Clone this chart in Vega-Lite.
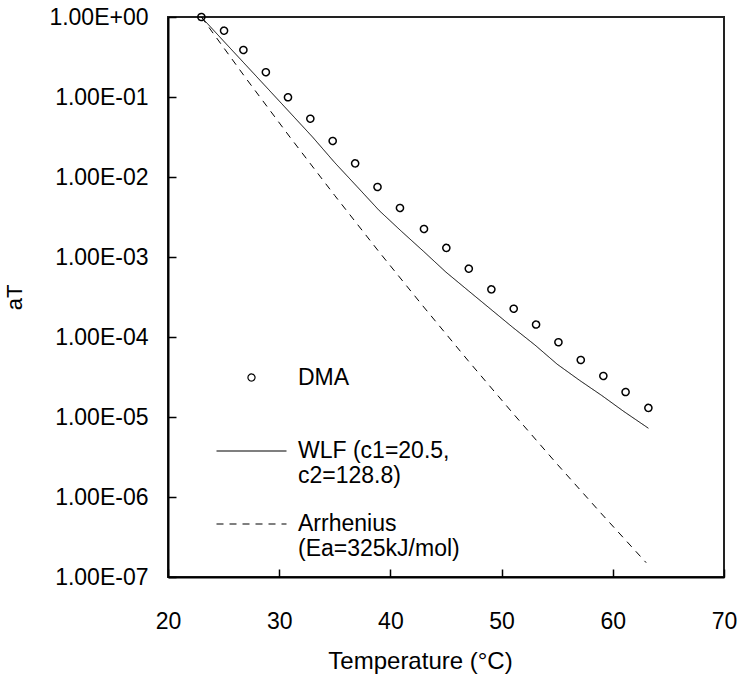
{
  "$schema": "https://vega.github.io/schema/vega-lite/v6.json",
  "width": 556,
  "height": 560,
  "autosize": {"type": "none"},
  "padding": {"left": 168, "top": 17, "right": 17, "bottom": 106},
  "background": "white",
  "config": {
    "font": "Liberation Sans",
    "view": {"stroke": "#222222", "strokeWidth": 2},
    "axis": {
      "grid": false,
      "domainColor": "black",
      "domainWidth": 2,
      "tickColor": "black",
      "tickWidth": 1.5,
      "tickSize": -8,
      "labelColor": "black",
      "labelFontSize": 23,
      "labelFont": "Liberation Sans",
      "labelFlush": false,
      "titleColor": "black",
      "titleFont": "Liberation Sans",
      "titleFontSize": 24,
      "titleFontWeight": "normal"
    },
    "legend": {
      "orient": "none",
      "legendX": 47.5,
      "legendY": 349,
      "labelFontSize": 23,
      "labelFont": "Liberation Sans",
      "labelColor": "black",
      "labelLimit": 400,
      "labelOffset": 10.5,
      "rowPadding": 0,
      "symbolStrokeWidth": 1.2,
      "symbolStrokeColor": "black",
      "symbolFillColor": "transparent"
    }
  },
  "datasets": {
    "dma": [
      {"series": "DMA", "T": 23.0, "aT": 1.0},
      {"series": "DMA", "T": 25.04, "aT": 0.675},
      {"series": "DMA", "T": 26.78, "aT": 0.387},
      {"series": "DMA", "T": 28.8, "aT": 0.204},
      {"series": "DMA", "T": 30.79, "aT": 0.0991},
      {"series": "DMA", "T": 32.8, "aT": 0.0536},
      {"series": "DMA", "T": 34.81, "aT": 0.0282},
      {"series": "DMA", "T": 36.83, "aT": 0.0148},
      {"series": "DMA", "T": 38.84, "aT": 0.0075},
      {"series": "DMA", "T": 40.86, "aT": 0.0041},
      {"series": "DMA", "T": 43.02, "aT": 0.00224},
      {"series": "DMA", "T": 45.03, "aT": 0.0013},
      {"series": "DMA", "T": 47.05, "aT": 0.000715},
      {"series": "DMA", "T": 49.08, "aT": 0.000394},
      {"series": "DMA", "T": 51.09, "aT": 0.000226},
      {"series": "DMA", "T": 53.1, "aT": 0.000143},
      {"series": "DMA", "T": 55.11, "aT": 0.000086},
      {"series": "DMA", "T": 57.12, "aT": 0.0000516},
      {"series": "DMA", "T": 59.15, "aT": 0.0000326},
      {"series": "DMA", "T": 61.15, "aT": 0.0000205},
      {"series": "DMA", "T": 63.2, "aT": 0.000013}
    ],
    "models": [
      {"series": "WLF (c1=20.5, c2=128.8)", "T": 23, "aT": 1.0},
      {"series": "WLF (c1=20.5, c2=128.8)", "T": 25, "aT": 0.5},
      {"series": "WLF (c1=20.5, c2=128.8)", "T": 27, "aT": 0.251},
      {"series": "WLF (c1=20.5, c2=128.8)", "T": 29, "aT": 0.126},
      {"series": "WLF (c1=20.5, c2=128.8)", "T": 31, "aT": 0.0631},
      {"series": "WLF (c1=20.5, c2=128.8)", "T": 33, "aT": 0.0316},
      {"series": "WLF (c1=20.5, c2=128.8)", "T": 35, "aT": 0.0151},
      {"series": "WLF (c1=20.5, c2=128.8)", "T": 37, "aT": 0.00759},
      {"series": "WLF (c1=20.5, c2=128.8)", "T": 39, "aT": 0.0038},
      {"series": "WLF (c1=20.5, c2=128.8)", "T": 41, "aT": 0.00209},
      {"series": "WLF (c1=20.5, c2=128.8)", "T": 43, "aT": 0.00117},
      {"series": "WLF (c1=20.5, c2=128.8)", "T": 45, "aT": 0.000646},
      {"series": "WLF (c1=20.5, c2=128.8)", "T": 47, "aT": 0.00038},
      {"series": "WLF (c1=20.5, c2=128.8)", "T": 49, "aT": 0.000224},
      {"series": "WLF (c1=20.5, c2=128.8)", "T": 51, "aT": 0.000132},
      {"series": "WLF (c1=20.5, c2=128.8)", "T": 53, "aT": 0.0000794},
      {"series": "WLF (c1=20.5, c2=128.8)", "T": 55, "aT": 0.0000457},
      {"series": "WLF (c1=20.5, c2=128.8)", "T": 57, "aT": 0.0000288},
      {"series": "WLF (c1=20.5, c2=128.8)", "T": 59, "aT": 0.0000186},
      {"series": "WLF (c1=20.5, c2=128.8)", "T": 61, "aT": 0.0000117},
      {"series": "WLF (c1=20.5, c2=128.8)", "T": 63.2, "aT": 0.00000724},
      {"series": "Arrhenius (Ea=325kJ/mol)", "T": 23, "aT": 1.0},
      {"series": "Arrhenius (Ea=325kJ/mol)", "T": 27, "aT": 0.172},
      {"series": "Arrhenius (Ea=325kJ/mol)", "T": 31, "aT": 0.0311},
      {"series": "Arrhenius (Ea=325kJ/mol)", "T": 35, "aT": 0.00586},
      {"series": "Arrhenius (Ea=325kJ/mol)", "T": 39, "aT": 0.00115},
      {"series": "Arrhenius (Ea=325kJ/mol)", "T": 43, "aT": 0.000237},
      {"series": "Arrhenius (Ea=325kJ/mol)", "T": 47, "aT": 0.0000504},
      {"series": "Arrhenius (Ea=325kJ/mol)", "T": 51, "aT": 0.0000112},
      {"series": "Arrhenius (Ea=325kJ/mol)", "T": 55, "aT": 0.00000257},
      {"series": "Arrhenius (Ea=325kJ/mol)", "T": 59, "aT": 0.000000614},
      {"series": "Arrhenius (Ea=325kJ/mol)", "T": 63, "aT": 0.000000151}
    ]
  },
  "encoding": {
    "x": {
      "field": "T",
      "type": "quantitative",
      "scale": {"domain": [20, 70], "nice": false, "zero": false},
      "axis": {
        "values": [20, 30, 40, 50, 60, 70],
        "title": "Temperature (°C)",
        "labelPadding": 41,
        "titlePadding": 16,
        "titleX": 252
      }
    },
    "y": {
      "field": "aT",
      "type": "quantitative",
      "scale": {"type": "log", "domain": [0.0000001, 1], "nice": false},
      "axis": {
        "values": [0.0000001, 0.000001, 0.00001, 0.0001, 0.001, 0.01, 0.1, 1],
        "labelExpr": "datum.value >= 0.5 ? '1.00E+00' : '1.00E-0' + round(-log(datum.value) / LN10)",
        "title": "aT",
        "titleFontSize": 22,
        "labelPadding": 28,
        "titlePadding": 22
      }
    },
    "strokeDash": {
      "field": "series",
      "type": "nominal",
      "scale": {
        "type": "ordinal",
        "domain": ["DMA", "WLF (c1=20.5, c2=128.8)", "Arrhenius (Ea=325kJ/mol)"],
        "range": [[1, 0], [1, 0], [7, 6]]
      },
      "legend": {
        "title": null,
        "labelExpr": "datum.label == 'DMA' ? ['DMA', ' '] : (datum.label[0] == 'W' ? ['WLF (c1=20.5,', 'c2=128.8)'] : ['Arrhenius', '(Ea=325kJ/mol)'])"
      }
    }
  },
  "layer": [
    {
      "data": {"name": "models"},
      "mark": {"type": "line", "color": "black", "strokeWidth": 1}
    },
    {
      "data": {"name": "dma"},
      "mark": {"type": "point", "filled": false, "color": "black", "strokeWidth": 1.5, "opacity": 1},
      "encoding": {
        "shape": {
          "field": "series",
          "type": "nominal",
          "scale": {
            "type": "ordinal",
            "domain": ["DMA", "WLF (c1=20.5, c2=128.8)", "Arrhenius (Ea=325kJ/mol)"],
            "range": ["circle", "stroke", "stroke"]
          },
          "legend": {
            "title": null,
            "labelExpr": "datum.label == 'DMA' ? ['DMA', ' '] : (datum.label[0] == 'W' ? ['WLF (c1=20.5,', 'c2=128.8)'] : ['Arrhenius', '(Ea=325kJ/mol)'])"
          }
        },
        "size": {
          "field": "series",
          "type": "nominal",
          "scale": {
            "type": "ordinal",
            "domain": ["DMA", "WLF (c1=20.5, c2=128.8)", "Arrhenius (Ea=325kJ/mol)"],
            "range": [50, 4900, 4900]
          },
          "legend": {
            "title": null,
            "labelExpr": "datum.label == 'DMA' ? ['DMA', ' '] : (datum.label[0] == 'W' ? ['WLF (c1=20.5,', 'c2=128.8)'] : ['Arrhenius', '(Ea=325kJ/mol)'])"
          }
        }
      }
    }
  ]
}
